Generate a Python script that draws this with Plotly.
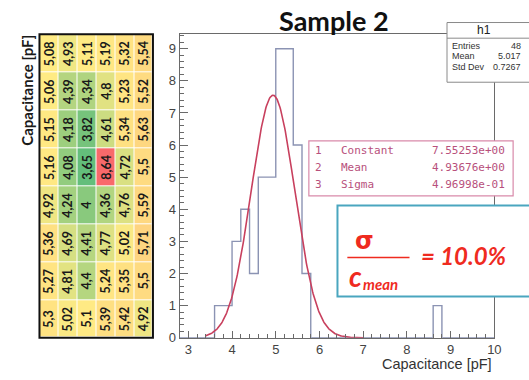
import numpy as np
import plotly.graph_objects as go

# ---------------- data ----------------
# capacitance map (pF), rows top->bottom as shown in the table
cap_row1 = [5.08, 4.93, 5.11, 5.19, 5.32, 5.54]
cap_row2 = [5.06, 4.39, 4.34, 4.80, 5.23, 5.52]
cap_row3 = [5.15, 4.18, 3.82, 4.61, 5.34, 5.63]
cap_row4 = [5.16, 4.08, 3.65, 8.64, 4.72, 5.50]
cap_row5 = [4.92, 4.24, 4.00, 4.36, 4.76, 5.59]
cap_row6 = [5.36, 4.69, 4.41, 4.77, 5.02, 5.71]
cap_row7 = [5.27, 4.81, 4.40, 5.24, 5.35, 5.50]
cap_row8 = [5.30, 5.02, 5.10, 5.39, 5.42, 4.92]
cap_table = [cap_row1, cap_row2, cap_row3, cap_row4, cap_row5, cap_row6, cap_row7, cap_row8]

bin_start, bin_end, bin_width = 2.8, 10.0, 0.2

fit_constant = 7.55253
fit_mean = 4.93676
fit_sigma = 0.496998
fit_range = (3.4, 7.0)
fit_labels = ["Constant", "Mean", "Sigma"]
fit_values = ["7.55253e+00", "4.93676e+00", "4.96998e-01"]

stats_labels = ["Entries", "Mean", "Std Dev"]
stats_values = ["48", "5.017", "0.7267"]

x_ticks = [3, 4, 5, 6, 7, 8, 9, 10]
y_ticks = [0, 1, 2, 3, 4, 5, 6, 7, 8, 9]

# ---------------- helpers ----------------
W, H = 529, 380
def fx(x):
    return x / W
def fy(y):
    return 1 - y / H

annotations = []
def note(x, y, text, font, xanchor="center", yanchor="middle", **kw):
    annotations.append(dict(x=fx(x), y=fy(y), xref="paper", yref="paper", text=text,
                            showarrow=False, xanchor=xanchor, yanchor=yanchor, font=font, **kw))

values = np.array(cap_table).ravel()
edges = np.round(np.arange(bin_start, bin_end + 1e-9, bin_width), 6)
counts, _ = np.histogram(values, bins=edges)

fig = go.Figure()

# histogram step outline
fig.add_trace(go.Scatter(
    x=edges, y=np.append(counts, counts[-1]),
    mode="lines", line=dict(shape="hv", color="#8b93b3", width=1.4),
    xaxis="x", yaxis="y", hoverinfo="skip", showlegend=False))

# gaussian fit
xf = np.linspace(fit_range[0], fit_range[1], 300)
yf = fit_constant * np.exp(-0.5 * ((xf - fit_mean) / fit_sigma) ** 2)
fig.add_trace(go.Scatter(
    x=xf, y=yf, mode="lines", line=dict(color="#c8405e", width=1.6),
    xaxis="x", yaxis="y", hoverinfo="skip", showlegend=False))

# heatmap table
zmin, zmax = values.min(), values.max()
mid = (np.median(values) - zmin) / (zmax - zmin)
fig.add_trace(go.Heatmap(
    z=cap_table, x=list(range(6)), y=list(range(8)),
    colorscale=[[0, "#63be7b"], [mid, "#ffeb84"], [1, "#f8696b"]],
    zmin=zmin, zmax=zmax, showscale=False, xgap=1, ygap=1,
    xaxis="x2", yaxis="y2", hoverinfo="skip"))

for r, row in enumerate(cap_table):
    for c, v in enumerate(row):
        annotations.append(dict(
            x=c, y=r, xref="x2", yref="y2", text=f"<b>{v:g}</b>".replace(".", ","),
            showarrow=False, textangle=-90, xanchor="center", yanchor="middle",
            font=dict(family="Lato", size=12.5, color="#1a1a1a")))

# table y title
note(27, 92, "<b>Capacitance [pF]</b>", dict(family="Lato", size=15, color="#1a1a1a"),
     textangle=-90)

# title
note(338, 21, "<b>Sample 2</b>", dict(family="Lato", size=27, color="#111"))

# x axis title
note(501, 372, "Capacitance [pF]", dict(family="Liberation Sans", size=14.5, color="#333"),
     xanchor="right")

shapes = []
# table border
shapes.append(dict(type="rect", xref="paper", yref="paper",
                   x0=fx(40), x1=fx(155), y0=fy(345), y1=fy(35),
                   line=dict(color="#111", width=2), layer="above"))

# stats box
shapes.append(dict(type="rect", xref="paper", yref="paper",
                   x0=fx(453), x1=fx(540), y0=fy(84), y1=fy(23),
                   line=dict(color="#8a8a8a", width=1), fillcolor="white", layer="above"))
shapes.append(dict(type="line", xref="paper", yref="paper",
                   x0=fx(453), x1=fx(540), y0=fy(39), y1=fy(39),
                   line=dict(color="#8a8a8a", width=1), layer="above"))
note(490, 31, "h1", dict(family="Liberation Sans", size=12, color="#222"))
sfont = dict(family="Liberation Sans", size=9, color="#333")
for i, (lab, val) in enumerate(zip(stats_labels, stats_values)):
    note(456, 46.5 + i * 10.8, lab, sfont, xanchor="left")
    note(530, 46.5 + i * 10.8, val, sfont, xanchor="right")

# fit parameter box
shapes.append(dict(type="rect", xref="paper", yref="paper",
                   x0=fx(313), x1=fx(520), y0=fy(200), y1=fy(144),
                   line=dict(color="#d98aaa", width=1.2), fillcolor="white", layer="above"))
ffont = dict(family="DejaVu Sans Mono", size=11, color="#b8507c")
for i, (lab, val) in enumerate(zip(fit_labels, fit_values)):
    yy = 154 + i * 17.3
    note(323, yy, str(i + 1), ffont)
    note(344, yy, lab, ffont, xanchor="left")
    note(514, yy, val, ffont, xanchor="right")

# sigma / c_mean box
shapes.append(dict(type="rect", xref="paper", yref="paper",
                   x0=fx(342), x1=fx(545), y0=fy(303), y1=fy(210),
                   line=dict(color="#4aa6bf", width=2), fillcolor="white", layer="above"))
red = "#ef2b1f"
shapes.append(dict(type="line", xref="paper", yref="paper",
                   x0=fx(352), x1=fx(415), y0=fy(263), y1=fy(263),
                   line=dict(color=red, width=1.5), layer="above"))
note(369, 246, "<b>σ</b>", dict(family="DejaVu Sans", size=24, color=red))
note(360, 282, "<b><i>c</i></b>", dict(family="Lato", size=28, color=red))
note(386, 290, "<b><i>mean</i></b>", dict(family="Lato", size=15, color=red))
note(470, 261, "<b><i>= 10.0%</i></b>", dict(family="Lato", size=24, color=red))

axis_common = dict(showgrid=False, zeroline=False, showline=True, mirror=True,
                   linecolor="#6a6a6a", linewidth=1, ticks="inside", tickcolor="#6a6a6a",
                   tickfont=dict(family="Liberation Sans", size=13, color="#444"))

fig.update_layout(
    width=W, height=H, margin=dict(l=0, r=0, t=0, b=0),
    paper_bgcolor="white", plot_bgcolor="white", showlegend=False,
    xaxis=dict(domain=[fx(182), fx(501)], range=[bin_start, bin_end], anchor="y",
               tickvals=x_ticks, ticklen=7,
               minor=dict(dtick=bin_width, tick0=bin_start, ticklen=3.5, ticks="inside",
                          tickcolor="#6a6a6a"),
               **axis_common),
    yaxis=dict(domain=[fy(345), fy(35)], range=[0, 9.45], anchor="x",
               tickvals=y_ticks, ticklen=8,
               minor=dict(dtick=0.2, tick0=0, ticklen=4, ticks="inside", tickcolor="#6a6a6a"),
               **axis_common),
    xaxis2=dict(domain=[fx(40), fx(155)], range=[-0.5, 5.5], visible=False, anchor="y2"),
    yaxis2=dict(domain=[fy(345), fy(35)], range=[7.5, -0.5], visible=False, anchor="x2"),
    shapes=shapes, annotations=annotations,
)

fig.write_html("out.html")
